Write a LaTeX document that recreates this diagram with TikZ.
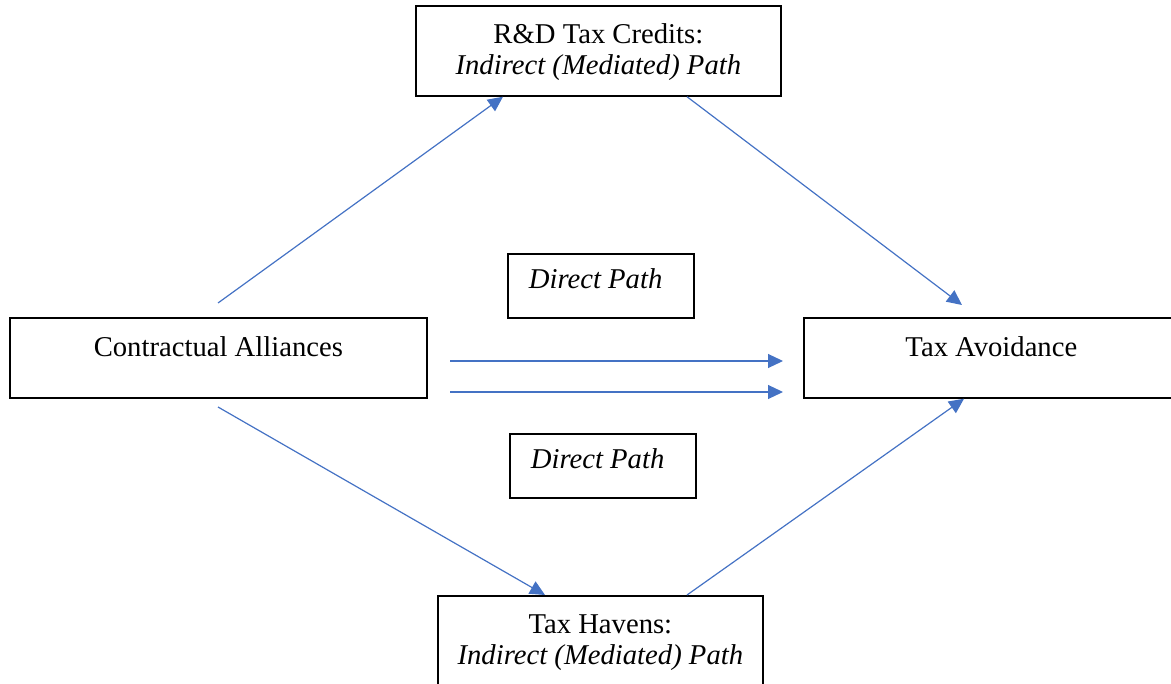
\documentclass[tikz,border=0pt]{standalone}
\usepackage{fontspec}
\setmainfont{Liberation Serif}
\usetikzlibrary{arrows.meta}
\definecolor{linkblue}{RGB}{68,114,196}
\tikzset{every picture/.style={line width=0.75pt}}

\begin{document}
\begin{tikzpicture}[x=0.75pt,y=0.75pt,yscale=-1,xscale=1,
  box/.style={draw=black,line width=1.3pt,inner sep=0pt,anchor=north west,
    font=\fontsize{21.5}{23.25}\selectfont,align=flush center},
  bigbox/.style={box,text height=29.25pt,text depth=30.75pt},
  pathbox/.style={box,align=flush left,text width=108pt,inner xsep=15.75pt,
    text height=26.25pt,text depth=21.75pt},
  link/.style={draw=linkblue,line width=0.9pt,-{Triangle[length=11.25pt,width=10.5pt]}}]
\useasboundingbox (0,0) rectangle (1171,684);

%Shape: Rectangle [id:ally]
\node [bigbox,text width=312.75pt] (ally) at (9,317) {Contractual Alliances};
%Shape: Rectangle [id:avoid]
\node [bigbox,text width=281.25pt] (avoid) at (803,317) {Tax Avoidance};
%Shape: Rectangle [id:credits]
\node [box,text width=273.75pt,text height=28.5pt,text depth=39pt] (credits) at (415,5)
  {R\&D Tax Credits:\\ \textit{Indirect (Mediated) Path}};
%Shape: Rectangle [id:havens]
\node [box,text width=243.75pt,text height=28.5pt,text depth=42pt] (havens) at (437,595)
  {Tax Havens:\\ \textit{Indirect (Mediated) Path}};
%Shape: Rectangle [id:directup]
\node [pathbox] (directup) at (507,253) {\textit{Direct Path}};
%Shape: Rectangle [id:directdown]
\node [pathbox] (directdown) at (509,433) {\textit{Direct Path}};

% free ends
\coordinate (allyup) at (218,303);
\coordinate (allydown) at (218,407);
\coordinate (directa) at (450,361);
\coordinate (directb) at (450,392);
\coordinate (avoidup) at (962,305);
\coordinate (avoida) at (783,361);
\coordinate (avoidb) at (783,392);

%Straight Lines [id:upper]
\draw [link] (allyup) -- ([shift={(88,0)}]credits.south west);
\draw [link] ([shift={(272,0)}]credits.south west) -- (avoidup);
%Straight Lines [id:lower]
\draw [link] (allydown) -- ([shift={(108,0)}]havens.north west);
\draw [link] ([shift={(250,0)}]havens.north west) -- ([shift={(161,0)}]avoid.south west);
%Straight Lines [id:direct]
\draw [link] (directa) -- (avoida);
\draw [link] (directb) -- (avoidb);

\end{tikzpicture}
\end{document}
